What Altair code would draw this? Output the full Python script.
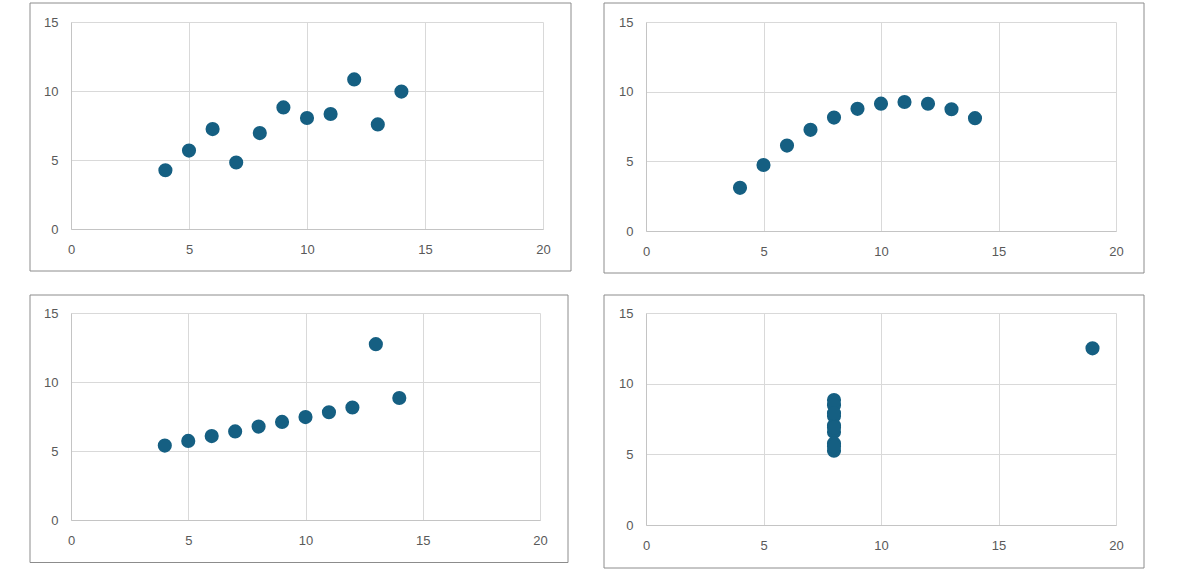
import altair as alt
import pandas as pd

x_123 = [10, 8, 13, 9, 11, 14, 6, 4, 12, 7, 5]
y_1 = [8.04, 6.95, 7.58, 8.81, 8.33, 9.96, 7.24, 4.26, 10.84, 4.82, 5.68]
y_2 = [9.14, 8.14, 8.74, 8.77, 9.26, 8.10, 6.13, 3.10, 9.13, 7.26, 4.74]
y_3 = [7.46, 6.77, 12.74, 7.11, 7.81, 8.84, 6.08, 5.39, 8.15, 6.42, 5.73]
x_4 = [8, 8, 8, 8, 8, 8, 8, 19, 8, 8, 8]
y_4 = [6.58, 5.76, 7.71, 8.84, 8.47, 7.04, 5.25, 12.50, 5.56, 7.91, 6.89]

x_ticks = [0, 5, 10, 15, 20]
y_ticks = [0, 5, 10, 15]

COLOR = "#155f82"
FONT = "Liberation Sans"


def panel(xs, ys, w, h, box):
    df = pd.DataFrame({"x": xs, "y": ys})
    l, r, t, b = box
    border = alt.Chart(alt.Data(values=[{"k": 1}])).mark_rect(
        fill=None, stroke="#8c8c8c", strokeWidth=1
    ).encode(
        x=alt.value(l), x2=alt.value(w + r), y=alt.value(t), y2=alt.value(h + b)
    )
    pts = alt.Chart(df).mark_circle(size=200, opacity=1, color=COLOR).encode(
        x=alt.X("x:Q", scale=alt.Scale(domain=[0, 20], nice=False),
                axis=alt.Axis(values=x_ticks, title=None, grid=True, ticks=False,
                              labelPadding=14, labelFlush=False,
                              domainColor="#c4c4c4")),
        y=alt.Y("y:Q", scale=alt.Scale(domain=[0, 15], nice=False),
                axis=alt.Axis(values=y_ticks, title=None, grid=True, ticks=False,
                              labelPadding=13, labelFlush=False,
                              domainColor="#c4c4c4")),
    )
    return alt.layer(border, pts).properties(width=w, height=h)


p1 = panel(x_123, y_1, 472, 207, (-41, 28, -19, 42))
p2 = panel(x_123, y_2, 470, 209, (-42, 28, -19, 42))
p3 = panel(x_123, y_3, 469, 207, (-41, 28, -18, 42.5))
p4 = panel(x_4, y_4, 470, 212, (-42, 28, -18, 43))

chart = alt.concat(
    p1, p2, p3, p4, columns=2, spacing={"row": 82, "column": 103}, bounds="flush"
).properties(
    padding={"left": 29, "top": 2, "right": 0, "bottom": 0},
    background="white",
).configure_view(stroke=None).configure_axis(
    gridColor="#d9d9d9", labelColor="#595959", labelFont=FONT, labelFontSize=13
)

chart.save("out.html", embed_options={"renderer": "svg", "actions": False})
